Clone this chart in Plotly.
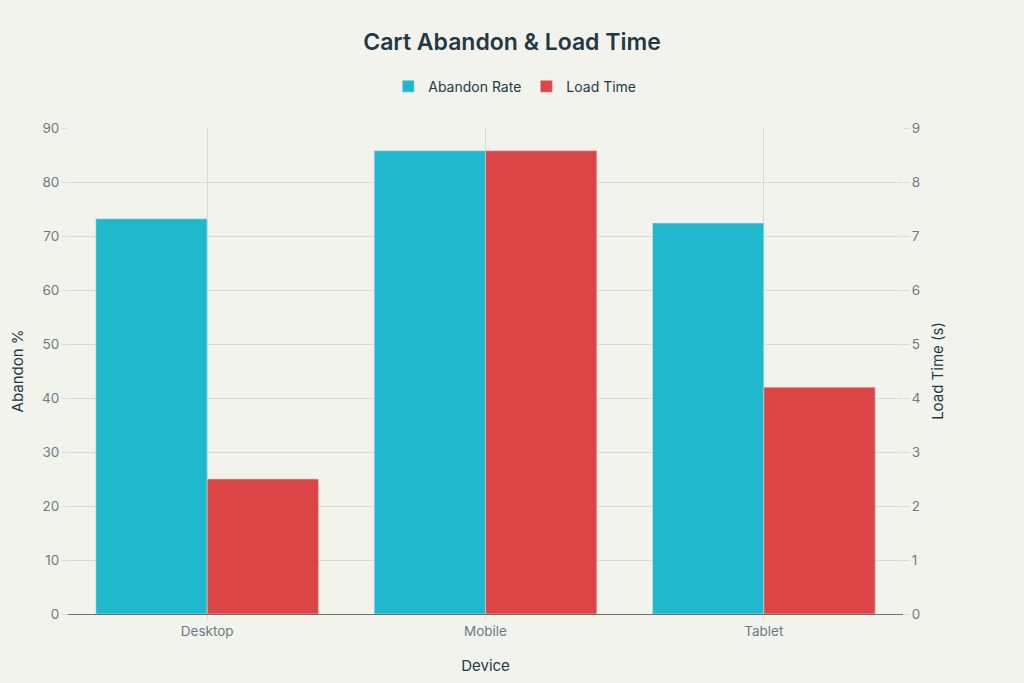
import plotly.graph_objects as go

# === Data ===
devices = ["Desktop", "Mobile", "Tablet"]
abandon_rate = [73.2, 85.8, 72.4]
load_time = [2.5, 8.58, 4.2]

# === Figure ===
fig = go.Figure()

fig.add_trace(go.Bar(
    x=devices,
    y=abandon_rate,
    name="Abandon Rate",
    marker=dict(color="#1FB8CD", line=dict(color="#D9E6E6", width=0.6)),
    offsetgroup=1,
    yaxis="y",
))

fig.add_trace(go.Bar(
    x=devices,
    y=load_time,
    name="Load Time",
    marker=dict(color="#DB4545", line=dict(color="#E8D2D0", width=0.6)),
    offsetgroup=2,
    yaxis="y2",
))

family = "Inter, Liberation Sans, sans-serif"
axis_font = dict(family=family, size=13.5, color="#6E7A82")
title_font = dict(family=family, size=15, color="#1F3A44")

fig.update_layout(
    title=dict(
        text="Cart Abandon & Load Time",
        x=0.5, xanchor="center",
        y=0.938, yanchor="middle",
        font=dict(family=family, size=23, color="#1F3A44", weight=600),
    ),
    barmode="group",
    bargap=0.2,
    bargroupgap=0,
    paper_bgcolor="#F3F3EE",
    plot_bgcolor="#F3F3EE",
    width=1024,
    height=683,
    margin=dict(l=68, r=121, t=128, b=69),
    legend=dict(
        orientation="h",
        x=0.535, xanchor="center",
        y=1.085, yanchor="middle",
        font=dict(family=family, size=14, color="#1F3A44"),
        bgcolor="rgba(0,0,0,0)",
    ),
    xaxis=dict(
        title=dict(text="Device", font=title_font, standoff=22),
        tickfont=axis_font,
        showgrid=True,
        gridcolor="#DCD9D3",
        gridwidth=1,
        ticks="outside",
        tickcolor="#DCD9D3",
        ticklen=5,
        showline=False,
    ),
    yaxis=dict(
        title=dict(text="Abandon %", font=title_font, standoff=14),
        tickfont=axis_font,
        range=[0, 90],
        dtick=10,
        showgrid=True,
        gridcolor="#DCD9D3",
        gridwidth=1,
        ticks="outside",
        tickcolor="#DCD9D3",
        ticklen=5,
        zeroline=True,
        zerolinecolor="#6E6E6E",
        zerolinewidth=1,
    ),
    yaxis2=dict(
        title=dict(text="Load Time (s)", font=title_font, standoff=13),
        tickfont=axis_font,
        overlaying="y",
        side="right",
        range=[0, 9],
        dtick=1,
        showgrid=False,
        ticks="outside",
        tickcolor="#DCD9D3",
        ticklen=5,
        zeroline=True,
        zerolinecolor="#6E6E6E",
        zerolinewidth=1,
    ),
)

fig.write_html(
    "out.html",
    config={"displayModeBar": False},
    post_script="document.body.style.margin='0';",
)
